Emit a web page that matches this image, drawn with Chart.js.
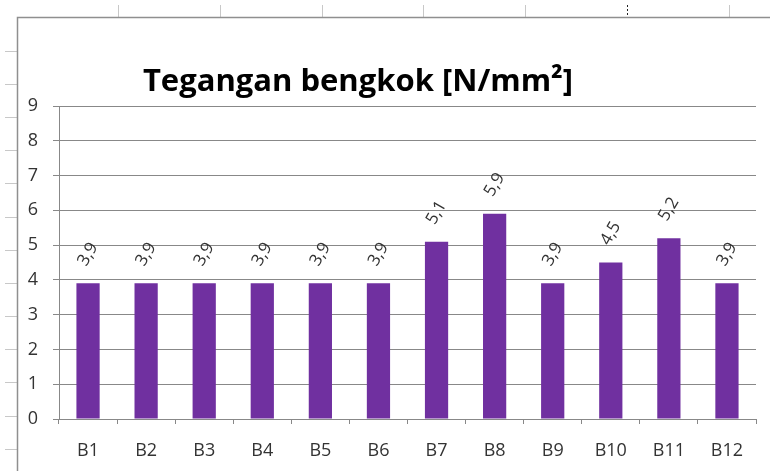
<!DOCTYPE html>
<html>
<head>
<meta charset="utf-8">
<script src="https://cdn.jsdelivr.net/npm/chart.js@4/dist/chart.umd.min.js"></script>
<style>
  html, body { margin: 0; padding: 0; background: #ffffff; }
  #wrap { width: 770px; height: 471px; position: relative; }
</style>
</head>
<body>
<div id="wrap"><canvas id="c" width="770" height="471"></canvas></div>
<script>
// ---- data ----
const categories = ['B1','B2','B3','B4','B5','B6','B7','B8','B9','B10','B11','B12'];
const values = [3.9, 3.9, 3.9, 3.9, 3.9, 3.9, 5.1, 5.9, 3.9, 4.5, 5.2, 3.9];
const yTicks = [0,1,2,3,4,5,6,7,8,9];
const titleText = 'Tegangan bengkok [N/mm²]';

const FONT = "'Open Sans', 'Liberation Sans', sans-serif";
const GRID = '#888888';
const TEXT = '#333333';

// spreadsheet background decoration + title
const sheetPlugin = {
  id: 'sheet',
  beforeDraw(chart) {
    const ctx = chart.ctx;
    ctx.save();
    ctx.fillStyle = '#ffffff';
    ctx.fillRect(0, 0, chart.width, chart.height);
    // column header ticks
    ctx.strokeStyle = '#c8c8c8';
    ctx.lineWidth = 1;
    [118, 220, 322, 423, 525, 729].forEach(x => {
      ctx.beginPath(); ctx.moveTo(x + 0.5, 5); ctx.lineTo(x + 0.5, 17); ctx.stroke();
    });
    ctx.strokeStyle = '#222';
    ctx.setLineDash([2, 2]);
    ctx.beginPath(); ctx.moveTo(627.5, 5); ctx.lineTo(627.5, 17); ctx.stroke();
    ctx.setLineDash([]);
    // row ticks
    ctx.strokeStyle = '#c8c8c8';
    for (let y = 50.5; y < chart.height; y += 33.2) {
      const yy = Math.round(y) + 0.5;
      ctx.beginPath(); ctx.moveTo(5, yy); ctx.lineTo(17, yy); ctx.stroke();
    }
    // chart object border (top + left)
    ctx.strokeStyle = '#8f8f8f';
    ctx.lineWidth = 1.5;
    ctx.beginPath();
    ctx.moveTo(770, 17.5); ctx.lineTo(17.5, 17.5); ctx.lineTo(17.5, 471);
    ctx.stroke();
    ctx.restore();
  },
  afterDraw(chart) {
    const ctx = chart.ctx;
    ctx.save();
    ctx.font = "bold 31px " + FONT;
    ctx.fillStyle = '#000000';
    ctx.textAlign = 'center';
    ctx.textBaseline = 'alphabetic';
    ctx.fillText(titleText, 358, 91);
    ctx.restore();
  }
};

// rotated value labels above each bar
const valueLabels = {
  id: 'valueLabels',
  afterDatasetsDraw(chart) {
    const ctx = chart.ctx;
    const meta = chart.getDatasetMeta(0);
    ctx.save();
    ctx.font = "17px " + FONT;
    ctx.fillStyle = TEXT;
    ctx.textAlign = 'center';
    ctx.textBaseline = 'middle';
    meta.data.forEach((el, i) => {
      const txt = String(values[i]).replace('.', ',');
      ctx.save();
      ctx.translate(el.x, el.y - 29);
      ctx.rotate(-60 * Math.PI / 180);
      ctx.fillText(txt, 0, 0);
      ctx.restore();
    });
    ctx.restore();
  }
};

new Chart(document.getElementById('c'), {
  type: 'bar',
  data: {
    labels: categories,
    datasets: [{
      data: values,
      backgroundColor: '#7030A0',
      borderWidth: 0,
      barPercentage: 0.8,
      categoryPercentage: 0.5
    }]
  },
  options: {
    responsive: false,
    animation: false,
    devicePixelRatio: 1,
    layout: { padding: { left: 0, right: 14, top: 106, bottom: 0 } },
    plugins: {
      legend: { display: false },
      title: { display: false },
      tooltip: { enabled: false }
    },
    scales: {
      x: {
        afterFit(s) { s.height = 52; },
        grid: {
          display: true,
          drawOnChartArea: false,
          drawTicks: true,
          tickLength: 5,
          color: GRID,
          offset: true
        },
        border: { display: true, color: GRID, width: 1 },
        ticks: {
          color: TEXT,
          font: { family: FONT, size: 18 },
          padding: 16,
          maxRotation: 0,
          autoSkip: false
        }
      },
      y: {
        min: 0,
        max: 9,
        afterFit(s) { s.width = 59; },
        afterBuildTicks(s) { s.ticks = yTicks.map(v => ({ value: v })); },
        grid: {
          color: GRID,
          tickLength: 6,
          drawTicks: true
        },
        border: { display: true, color: GRID, width: 1 },
        ticks: {
          color: TEXT,
          font: { family: FONT, size: 18 },
          padding: 15
        }
      }
    }
  },
  plugins: [sheetPlugin, valueLabels]
});
</script>
</body>
</html>
